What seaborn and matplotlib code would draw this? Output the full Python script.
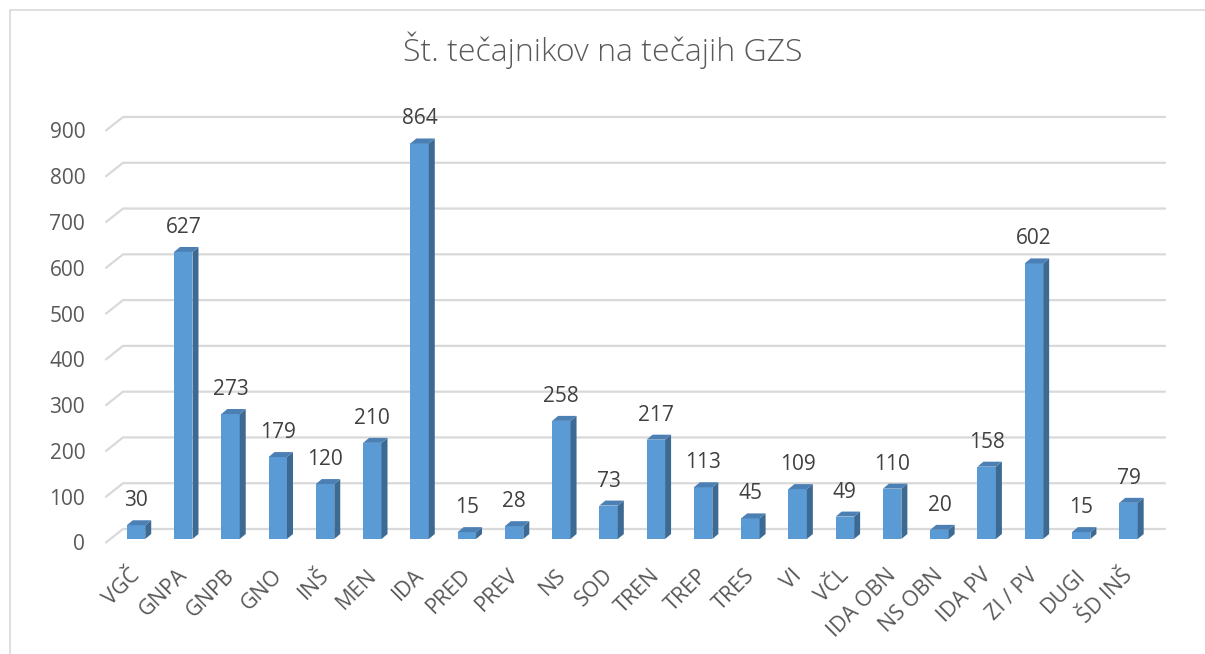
import matplotlib
matplotlib.use("Agg")
import matplotlib.pyplot as plt
from matplotlib.patches import Polygon
from matplotlib.lines import Line2D
import matplotlib.transforms as mtransforms
import seaborn as sns
import pandas as pd

categories = ["VGČ", "GNPA", "GNPB", "GNO", "INŠ", "MEN", "IDA", "PRED", "PREV", "NS",
              "SOD", "TREN", "TREP", "TRES", "VI", "VČL", "IDA OBN", "NS OBN", "IDA PV",
              "ZI / PV", "DUGI", "ŠD INŠ"]
values = [30, 627, 273, 179, 120, 210, 864, 15, 28, 258, 73, 217, 113, 45, 109, 49,
          110, 20, 158, 602, 15, 79]
y_ticks = [0, 100, 200, 300, 400, 500, 600, 700, 800, 900]
title = "Št. tečajnikov na tečajih GZS"

sns.set_theme(style="white")
plt.rcParams["font.family"] = ["Open Sans", "DejaVu Sans"]

W, H = 1205, 654
fig = plt.figure(figsize=(W / 100, H / 100), dpi=100)
fig.patch.set_facecolor("white")

# axes placement in pixels (from top)
ax_l, ax_r, ax_t, ax_b = 106, 1148, 127, 539
ax = fig.add_axes([ax_l / W, (H - ax_b) / H, (ax_r - ax_l) / W, (ax_b - ax_t) / H])
ax.set_facecolor("none")

df = pd.DataFrame({"cat": categories, "val": values})
front = "#5B9BD5"
side = "#3D6A93"
topc = "#4C80B4"
sns.barplot(data=df, x="cat", y="val", color=front, saturation=1, width=0.39,
            ax=ax, edgecolor="none", zorder=3)

n = len(categories)
step = 47.26
ax.set_xlim((ax_l - 136) / step, (ax_r - 136) / step)
ax.set_ylim(0, 900)
for s in ax.spines.values():
    s.set_visible(False)
ax.set_xlabel("")
ax.set_ylabel("")


def off(x, y, dx, dy):
    px, py = ax.transData.transform((x, y))
    return ax.transData.inverted().transform((px + dx, py + dy))


grid_c = "#D9D9D9"
x_left = ax.get_xlim()[0]
x_right_back = off(ax.get_xlim()[1], 0, 17, 0)[0]
for v in y_ticks:
    p0 = off(x_left, v, 0, -3.5)
    p1 = off(x_left, v, 17, 10)
    p2 = (x_right_back, p1[1])
    ax.add_line(Line2D([p0[0], p1[0], p2[0]], [p0[1], p1[1], p2[1]], color=grid_c,
                       lw=1.6, clip_on=False, zorder=1))

# 3D sides and tops
ddx, ddy = 6, 5
for patch in ax.patches[:n]:
    x0 = patch.get_x()
    x1 = x0 + patch.get_width()
    h = patch.get_height()
    sp = [(x1, 0), tuple(off(x1, 0, ddx, ddy)), tuple(off(x1, h, ddx, ddy)), (x1, h)]
    tp = [(x0, h), tuple(off(x0, h, ddx, ddy)), tuple(off(x1, h, ddx, ddy)), (x1, h)]
    ax.add_patch(Polygon(sp, closed=True, facecolor=side, edgecolor="none",
                         zorder=3, clip_on=False))
    ax.add_patch(Polygon(tp, closed=True, facecolor=topc, edgecolor="none",
                         zorder=3, clip_on=False))

# value labels
lab_off = mtransforms.offset_copy(ax.transData, fig=fig, x=0, y=19, units="dots")
for patch, v in zip(ax.patches[:n], values):
    xc = patch.get_x() + patch.get_width() / 2
    ax.text(xc, v, f"{v}", transform=lab_off, ha="center", va="baseline",
            fontsize=15, color="#404040", zorder=5, clip_on=False)

# ticks
ax.set_yticks(y_ticks)
ax.set_yticklabels([str(t) for t in y_ticks], fontsize=15, color="#595959")
ax.tick_params(axis="y", length=0, pad=15)
ydown = mtransforms.ScaledTranslation(0, -3.5 / 100, fig.dpi_scale_trans)
for lab in ax.get_yticklabels():
    lab.set_transform(lab.get_transform() + ydown)

ax.set_xticks(range(n))
ax.set_xticklabels(categories, fontsize=15.5, color="#595959")
ax.tick_params(axis="x", length=0, pad=24)
shift = mtransforms.ScaledTranslation(1 / 100, 0, fig.dpi_scale_trans)
for lab in ax.get_xticklabels():
    lab.set_rotation(45)
    lab.set_ha("right")
    lab.set_va("center")
    lab.set_rotation_mode("anchor")
    lab.set_transform(lab.get_transform() + shift)

# title
fig.text(603 / W, 1 - 50 / H, title, ha="center", va="center", fontsize=23,
         color="#595959", fontweight="light")

# chart frame
fig.add_artist(Line2D([10 / W, 1.0], [1 - 10 / H, 1 - 10 / H], color=grid_c, lw=1.2,
                      transform=fig.transFigure))
fig.add_artist(Line2D([10 / W, 10 / W], [1 - 10 / H, 0], color=grid_c, lw=1.2,
                      transform=fig.transFigure))

fig.savefig("out.png", dpi=100)
